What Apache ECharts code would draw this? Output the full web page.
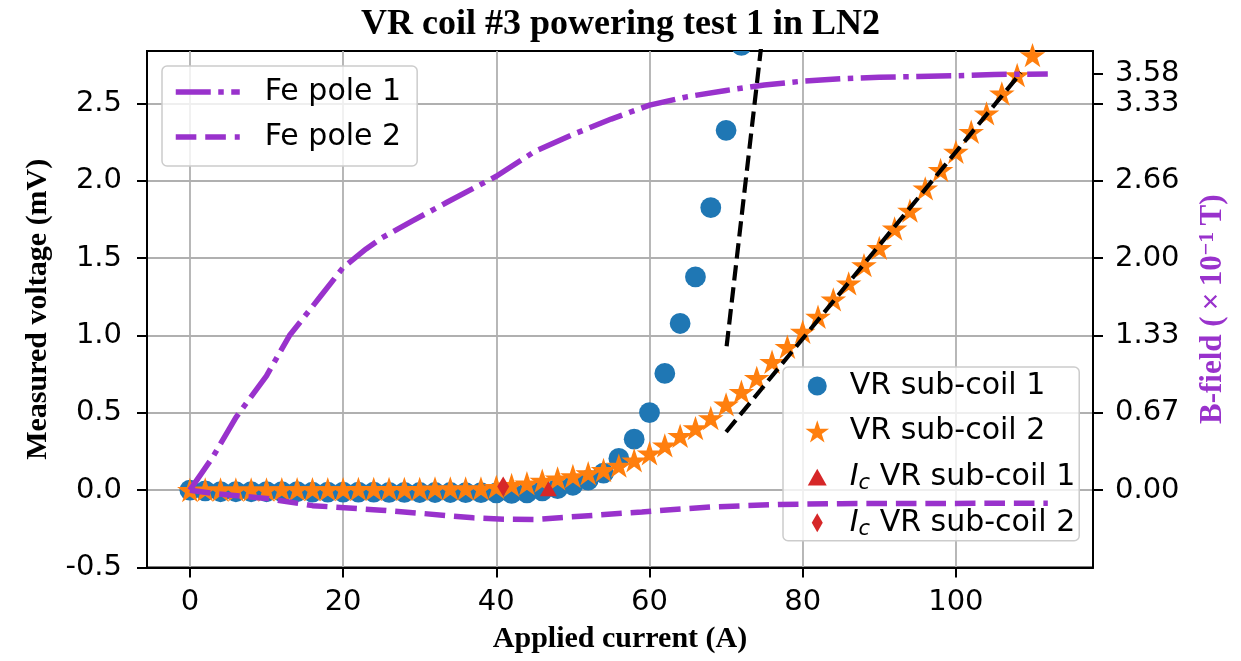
<!DOCTYPE html>
<html><head><meta charset="utf-8">
<script src="https://cdn.jsdelivr.net/npm/echarts@6/dist/echarts.min.js"></script>
<style>html,body{margin:0;padding:0;background:#fff}#c{width:1241px;height:661px}</style>
</head><body><div id="c"></div>
<script>
// ---- data ----
const coil1Current = [0,2,4,6,8,10,12,14,16,18,20,22,24,26,28,30,32,34,36,38,40,42,44,46,48,50,52,54,56,58,60,62,64,66,68,70,72];
const coil1Voltage = [0,-0.005,-0.01,-0.01,-0.01,-0.01,-0.01,-0.01,-0.012,-0.012,-0.012,-0.013,-0.013,-0.014,-0.014,-0.015,-0.015,-0.015,-0.016,-0.016,-0.017,-0.02,-0.018,-0.005,0.01,0.032,0.065,0.11,0.205,0.33,0.502,0.755,1.078,1.379,1.827,2.327,2.877];
const coil2Current = [0,2,4,6,8,10,12,14,16,18,20,22,24,26,28,30,32,34,36,38,40,42,44,46,48,50,52,54,56,58,60,62,64,66,68,70,72,74,76,78,80,82,84,86,88,90,92,94,96,98,100,102,104,106,108,110];
const coil2Voltage = [0,0.003,0.003,0.003,0.003,0.003,0.005,0.005,0.005,0.005,0.005,0.007,0.007,0.007,0.007,0.007,0.01,0.01,0.01,0.01,0.02,0.032,0.043,0.06,0.075,0.09,0.108,0.129,0.157,0.192,0.237,0.288,0.35,0.40,0.465,0.553,0.635,0.725,0.829,0.926,1.023,1.12,1.232,1.336,1.454,1.565,1.691,1.806,1.95,2.069,2.187,2.316,2.435,2.564,2.683,2.812];
const icCoil1 = [46.8, 0.01];
const icCoil2 = [40.9, 0.024];
const fitLine1 = [[70.07, 0.93], [75.0, 3.05]];
const fitLine2 = [[70.0, 0.376], [108.5, 2.70]];
const fePole1Current = [0,3,6,10,13,17,20,23,25,29,33.5,40,45,50,55,60,65,70,75,80,85,90,95,100,105,112];
const fePole1Field = [0,0.286,0.625,0.984,1.33,1.663,1.915,2.075,2.168,2.314,2.474,2.700,2.913,3.059,3.192,3.312,3.385,3.438,3.485,3.518,3.538,3.551,3.558,3.564,3.575,3.58];
const fePole2Current = [0,3,10,16,25,30,37,41,45,51,59,68,77,85,95,105,112];
const fePole2Field = [0,-0.028,-0.071,-0.133,-0.172,-0.198,-0.238,-0.249,-0.252,-0.224,-0.187,-0.144,-0.123,-0.116,-0.114,-0.113,-0.113];
const xTicks = [0,20,40,60,80,100];
const leftTicks = [-0.5,0,0.5,1,1.5,2,2.5];
const rightTickValues = [0,0.665,1.33,1.995,2.66,3.325,3.58];
const rightTickLabels = ['0.00','0.67','1.33','2.00','2.66','3.33','3.58'];

const STAR = 'path://M0,-1L0.2245,-0.309L0.951,-0.309L0.363,0.118L0.588,0.809L0,0.382L-0.588,0.809L-0.363,0.118L-0.951,-0.309L-0.2245,-0.309Z';
const TRI = 'path://M0,-0.75L0.85,0.75L-0.85,0.75Z';
const DIA = 'path://M0,-0.95L0.55,0L0,0.95L-0.55,0Z';

const BLUE='#1f77b4', ORANGE='#ff7f0e', RED='#d62728', PURPLE='#9932CC';
const DASHDOT=[35,7.5,5.5,7.5], DASHED=[20.6,8.9];
const tickFont = {fontFamily:'DejaVu Sans', fontSize:29, color:'#000'};
const nameFont = {fontFamily:'Liberation Serif', fontWeight:'bold', fontSize:30, color:'#000'};
const tickStyle = {show:true, inside:false, length:10, lineStyle:{color:'#000', width:2}};
const axisLineStyle = {show:true, onZero:false, lineStyle:{color:'#000', width:2}};

const chart = echarts.init(document.getElementById('c'), null, {renderer:'canvas'});
chart.setOption({
  animation:false,
  title:{text:'VR coil #3 powering test 1 in LN2', left:'center', top:2,
    textStyle:{fontFamily:'Liberation Serif', fontWeight:'bold', fontSize:36, color:'#000'}},
  grid:{left:147, right:148, top:51, bottom:93.5, show:true, borderColor:'#000', borderWidth:2},
  xAxis:{type:'value', min:-5.6, max:117.9,
    axisLine:axisLineStyle,
    axisTick:Object.assign({customValues:xTicks}, tickStyle),
    axisLabel:Object.assign({customValues:xTicks, margin:20}, tickFont),
    splitLine:{show:true, lineStyle:{color:'#b0b0b0', width:1.8}},
    name:'Applied current (A)', nameLocation:'middle', nameGap:57, nameTextStyle:nameFont},
  yAxis:[{type:'value', min:-0.5, max:2.84, position:'left',
    axisLine:axisLineStyle,
    axisTick:Object.assign({customValues:leftTicks}, tickStyle),
    axisLabel:Object.assign({customValues:leftTicks, margin:25, formatter:v=>v.toFixed(1)}, tickFont),
    splitLine:{show:true, lineStyle:{color:'#b0b0b0', width:1.8}},
    name:'Measured voltage (mV)', nameLocation:'middle', nameRotate:90, nameGap:94, nameTextStyle:nameFont},
   {type:'value', min:-0.665, max:3.7772, position:'right',
    axisLine:axisLineStyle,
    axisTick:Object.assign({customValues:rightTickValues}, tickStyle),
    axisLabel:Object.assign({customValues:rightTickValues, margin:22, formatter:function(v){
        let best=0; for(let i=0;i<rightTickValues.length;i++){ if(Math.abs(rightTickValues[i]-v)<Math.abs(rightTickValues[best]-v)) best=i; }
        return rightTickLabels[best]; }}, tickFont),
    splitLine:{show:false},
    name:'{b|B-field (\u2009×\u200910}{sup|−1}{b|\u2009T)}', nameLocation:'middle', nameRotate:90, nameGap:103,
    nameTextStyle:{color:PURPLE, fontFamily:'Liberation Serif', fontWeight:'bold', fontSize:31,
      rich:{b:{color:PURPLE, fontFamily:'Liberation Serif', fontWeight:'bold', fontSize:31, lineHeight:33},
            sup:{color:PURPLE, fontFamily:'Liberation Serif', fontWeight:'bold', fontSize:22, lineHeight:22, verticalAlign:'top'}}}}],
  legend:[
   {data:[{name:'Fe pole 1', lineStyle:{color:PURPLE, width:5.5, type:DASHDOT}},
          {name:'Fe pole 2', lineStyle:{color:PURPLE, width:5.5, type:DASHED}}],
    orient:'vertical', left:162, top:66, z:8, selectedMode:false,
    itemWidth:64, itemHeight:20, itemGap:11, padding:[9,16,12,11],
    itemStyle:{color:'rgba(0,0,0,0)', opacity:0, borderWidth:0},
    backgroundColor:'rgba(255,255,255,0.8)', borderColor:'#cccccc', borderWidth:1.5, borderRadius:5,
    textStyle:{fontFamily:'DejaVu Sans', fontSize:30, color:'#000', lineHeight:34, padding:[0,0,0,20]}},
   {data:[{name:'VR sub-coil 1', icon:'circle', itemStyle:{color:BLUE}},
          {name:'VR sub-coil 2', icon:STAR, itemStyle:{color:ORANGE, borderColor:ORANGE, borderWidth:1.5}},
          {name:'Ic VR sub-coil 1', icon:TRI, itemStyle:{color:RED}},
          {name:'Ic VR sub-coil 2', icon:DIA, itemStyle:{color:RED}}],
    orient:'vertical', left:783, top:367, z:5, selectedMode:false,
    itemWidth:19, itemHeight:19, itemGap:11.6, padding:[2,4,1,24], symbolKeepAspect:true,
    backgroundColor:'rgba(255,255,255,0.8)', borderColor:'#cccccc', borderWidth:1.5, borderRadius:5,
    formatter:function(n){ return n.indexOf('Ic ')===0 ? '{it|I}{sub|c}{t| '+n.slice(3)+'}' : '{t|'+n+'}'; },
    textStyle:{fontFamily:'DejaVu Sans', fontSize:30, color:'#000', lineHeight:34, padding:[0,0,0,18],
      rich:{t:{fontFamily:'DejaVu Sans', fontSize:30, color:'#000', lineHeight:34},
            it:{fontFamily:'DejaVu Sans', fontStyle:'italic', fontSize:30, color:'#000', lineHeight:34},
            sub:{fontFamily:'DejaVu Sans', fontStyle:'italic', fontSize:21, color:'#000', lineHeight:22, verticalAlign:'bottom'}}}}
  ],
  series:[
   {type:'custom', name:'VR sub-coil 1', xAxisIndex:0, yAxisIndex:0, clip:true, z:2,
    itemStyle:{color:BLUE},
    data:coil1Current.map((a,i)=>[a, coil1Voltage[i]]),
    renderItem:function(params, api){
      const p = api.coord([api.value(0), api.value(1)]);
      return {type:'circle', shape:{cx:p[0], cy:p[1], r:10.4}, style:{fill:BLUE}};
    }},
   {type:'scatter', name:'VR sub-coil 2', xAxisIndex:0, yAxisIndex:0, z:3,
    symbol:STAR, symbolSize:21, symbolKeepAspect:true,
    itemStyle:{color:ORANGE, opacity:1, borderColor:ORANGE, borderWidth:1.5},
    data:coil2Current.map((a,i)=>[a, coil2Voltage[i]])},
   {type:'scatter', name:'Ic VR sub-coil 1', z:3, symbol:'triangle', symbolSize:[17,15],
    itemStyle:{color:RED, opacity:1}, data:[icCoil1]},
   {type:'scatter', name:'Ic VR sub-coil 2', z:3, symbol:'diamond', symbolSize:[12,20],
    itemStyle:{color:RED, opacity:1}, data:[icCoil2]},
   {type:'line', name:'fit1', z:4, symbol:'none', clip:true, silent:true,
    lineStyle:{color:'#000', width:4.2, type:[15.4,6.7]}, data:fitLine1},
   {type:'line', name:'fit2', z:4, symbol:'none', clip:true, silent:true,
    lineStyle:{color:'#000', width:4.2, type:[15.4,6.7]}, data:fitLine2},
   {type:'line', name:'Fe pole 1', yAxisIndex:1, z:6, symbol:'none', clip:true,
    itemStyle:{color:PURPLE},
    lineStyle:{color:PURPLE, width:5.5, type:DASHDOT},
    data:fePole1Current.map((a,i)=>[a, fePole1Field[i]])},
   {type:'line', name:'Fe pole 2', yAxisIndex:1, z:6, symbol:'none', clip:true,
    itemStyle:{color:PURPLE},
    lineStyle:{color:PURPLE, width:5.5, type:DASHED},
    data:fePole2Current.map((a,i)=>[a, fePole2Field[i]])}
  ]
});
</script></body></html>
